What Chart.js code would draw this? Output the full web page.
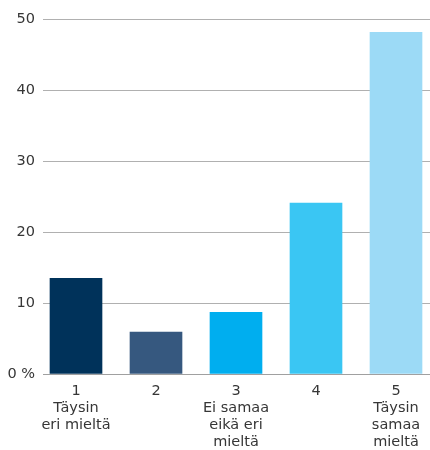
<!DOCTYPE html>
<html>
<head>
<meta charset="utf-8">
<script src="https://cdn.jsdelivr.net/npm/chart.js@4/dist/chart.umd.min.js"></script>
<style>
html,body{margin:0;padding:0;background:#fff;overflow:hidden;}
#wrap{width:430px;height:450px;position:relative;}
</style>
</head>
<body>
<div id="wrap"><canvas id="c" width="430" height="450"></canvas></div>
<script>
const categories = ["1", "2", "3", "4", "5"];
const xLabels = [["1", "Täysin", "eri mieltä"], ["2"], ["3", "Ei samaa", "eikä eri", "mieltä"], ["4"], ["5", "Täysin", "samaa", "mieltä"]];
const values = [13.5, 5.9, 8.7, 24.1, 48.2];
const barColors = ["#00325a", "#36587f", "#00aeef", "#3ac6f3", "#9cdaf6"];
const yTicks = [0, 10, 20, 30, 40, 50];

Chart.defaults.font.family = "DejaVu Sans";
const ctx = document.getElementById('c').getContext('2d');
new Chart(ctx, {
  type: 'bar',
  data: {
    datasets: [{
      data: categories.map((c, i) => ({x: i + 1, y: values[i]})),
      backgroundColor: barColors,
      borderWidth: 0,
      barThickness: 52
    }]
  },
  options: {
    responsive: false,
    animation: false,
    layout: {padding: {left: 7, right: 0, top: 19.5, bottom: 0}},
    plugins: {legend: {display: false}, tooltip: {enabled: false}},
    scales: {
      x: {
        type: 'linear',
        offset: false,
        min: 0.5875,
        max: 5.425,
        afterBuildTicks: (scale) => { scale.ticks = categories.map((c, i) => ({value: i + 1})); },
        afterFit: (scale) => { scale.height = 76; scale.paddingLeft = 0; scale.paddingRight = 0; },
        grid: {display: false, drawTicks: false, offset: false},
        border: {display: true, color: '#a0a0a0', width: 1},
        ticks: {
          autoSkip: false,
          maxRotation: 0,
          padding: 9,
          color: '#363636',
          font: {size: 14.5, lineHeight: 1.16},
          callback: (v) => xLabels[Math.round(v) - 1]
        }
      },
      y: {
        min: 0,
        max: 50,
        afterBuildTicks: (scale) => { scale.ticks = yTicks.map(v => ({value: v})); },
        afterFit: (scale) => { scale.width = 36; scale.paddingTop = 0; scale.paddingBottom = 0; },
        grid: {color: '#b0b0b0', lineWidth: 1, drawTicks: false},
        border: {display: false},
        ticks: {
          padding: 8,
          color: '#363636',
          font: {size: 14.5},
          callback: (v) => v === 0 ? '0 %' : String(v)
        }
      }
    }
  }
});
</script>
</body>
</html>
